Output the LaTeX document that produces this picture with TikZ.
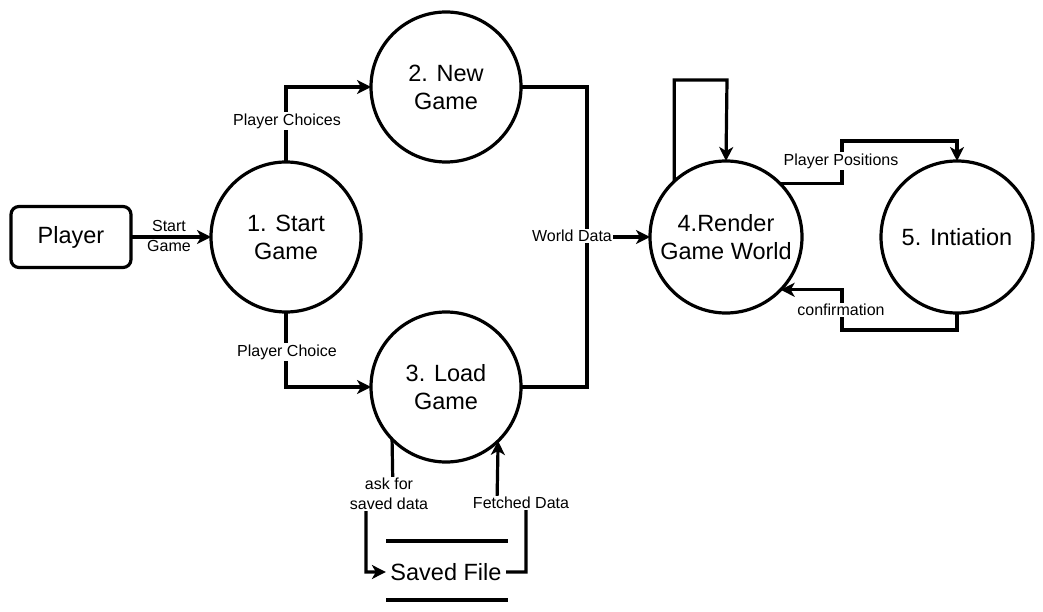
\documentclass[tikz,border=0pt]{standalone}
\usepackage{fontspec}
\setmainfont{Liberation Sans}
\usetikzlibrary{arrows.meta}
\begin{document}
\begin{tikzpicture}[x=1pt,y=-1pt,
  line width=3.2pt,
  proc/.style={circle,draw,minimum size=150pt,inner sep=0pt,outer sep=0pt,align=center,font=\fontsize{23.5}{28}\selectfont},
  ent/.style={draw,rounded corners=8pt,minimum width=120pt,minimum height=61pt,outer sep=0pt,font=\fontsize{23.5}{28}\selectfont},
  lbl/.style={fill=white,inner sep=1.5pt,align=center,font=\fontsize{16}{20}\selectfont},
  arr/.style={-{Stealth[length=14pt,width=14pt,inset=4pt]}}]
\useasboundingbox (0,0) rectangle (1043,612);

\node[ent] (pl) at (71,237) {Player};
\node[proc] (c1) at (286,237) {1. Start\\Game};
\node[proc] (c2) at (446,87) {2. New\\Game};
\node[proc] (c3) at (446,387) {3. Load\\Game};
\node[proc,minimum size=152pt] (c4) at (726,237) {4.Render\\Game World};
\node[proc,minimum size=152pt] (c5) at (957,237) {5. Intiation};
\node[inner sep=3pt,font=\fontsize{23.5}{28}\selectfont] (sf) at (446,572) {Saved File};
\draw (386,541) -- (508,541);
\draw (386,600) -- (508,600);

% Player -> 1
\draw[arr] (pl.east) -- (c1.west);
\node[lbl,fill=none] (l0) at (169,236) {Start\\Game};

% 1 -> 2
\draw[arr] (c1.north) |- (c2.west);
\node[lbl] (l1) at (287,121) {Player Choices};

% 1 -> 3
\draw[arr] (c1.south) |- (c3.west);
\node[lbl] (l2) at (287,352) {Player Choice};

% 2,3 -> 4
\draw[arr] (c2.east) -| (587,237) -- (c4.west);
\draw (c3.east) -| (587,237);
\node[lbl] (l3) at (572,236) {World Data};

% self loop 4
\draw[arr] (c4.133) |- (727,80) -- (c4.north);

% 4 -> 5
\draw[arr] (c4.45) -| (842,141) -| (c5.north);
\node[lbl] (l4) at (841,161) {Player Positions};

% 5 -> 4
\draw[arr] (c5.south) |- (842,330) |- (c4.-44);
\node[lbl] (l5) at (841,310) {confirmation};

% 3 -> Saved File
\draw[arr] (c3.-136) -- (393,494) -- (366,494) |- (sf.west);
\node[lbl] (l6) at (389,494) {ask for\\saved data};

% Saved File -> 3
\draw[arr] (sf.east) -| (526,503) -- (497,503) -- (c3.-46);
\node[lbl] (l7) at (521,503) {Fetched Data};
\end{tikzpicture}
\end{document}
